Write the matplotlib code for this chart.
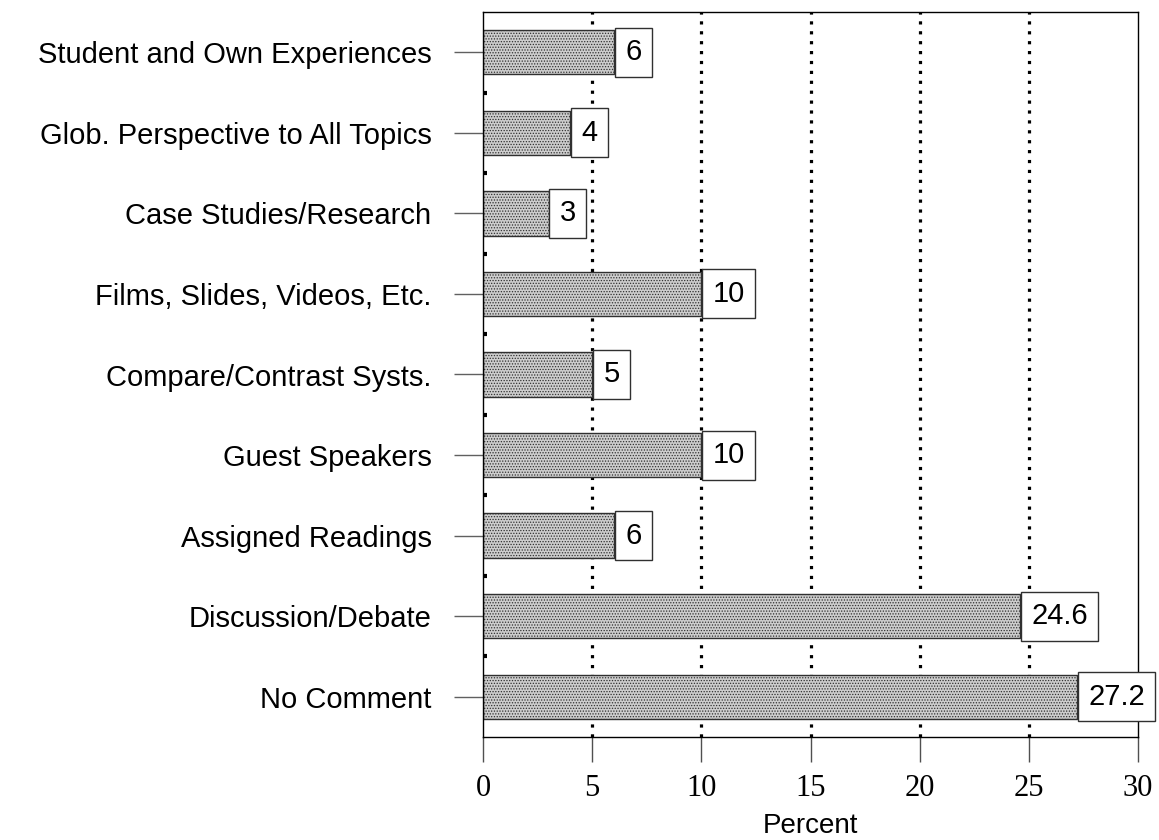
import matplotlib.pyplot as plt
import numpy as np

# categories listed top to bottom
categories = ['Student and Own Experiences', 'Glob. Perspective to All Topics',
              'Case Studies/Research', 'Films, Slides, Videos, Etc.',
              'Compare/Contrast Systs.', 'Guest Speakers', 'Assigned Readings',
              'Discussion/Debate', 'No Comment']
percent = [6, 4, 3, 10, 5, 10, 6, 24.6, 27.2]
value_labels = ['6', '4', '3', '10', '5', '10', '6', '24.6', '27.2']
x_ticks = [0, 5, 10, 15, 20, 25, 30]

plt.rcParams['hatch.color'] = '#7a7a7a'
plt.rcParams['hatch.linewidth'] = 0.6

fig = plt.figure(figsize=(11.59, 8.4), dpi=100)
ax = fig.add_axes([483 / 1159, 1 - 737 / 840, (1138 - 483) / 1159, (737 - 12) / 840])

y = np.arange(len(categories))[::-1]

# dotted gridlines behind bars
for xv in x_ticks[1:-1]:
    ax.axvline(xv, color='black', lw=2.3, linestyle=(0, (1, 2.1)), zorder=1)

ax.barh(y, percent, height=0.55, color='#cdcdcd', edgecolor='#303030',
        linewidth=1.0, hatch='......', zorder=2)

# value boxes start at bar end
fs = 21
pad = 0.36
for yi, v, lab in zip(y, percent, value_labels):
    ax.annotate(lab, (v, yi), xytext=(pad * fs + 0.5, 0), textcoords='offset points',
                ha='left', va='center', fontsize=fs, family='Liberation Sans',
                zorder=4, annotation_clip=False,
                bbox=dict(boxstyle='square,pad=%g' % pad, fc='white', ec='#303030', lw=1.0))

ax.set_xlim(0, 30)
ax.set_ylim(-0.5, len(categories) - 0.5)
ax.set_xticks(x_ticks)
ax.set_xticklabels([str(t) for t in x_ticks], family='Liberation Serif', fontsize=22)
ax.set_yticks(y)
ax.set_yticklabels(categories, family='Liberation Sans', fontsize=21)
ax.set_yticks(np.arange(len(categories) - 1) + 0.5, minor=True)

ax.tick_params(axis='x', direction='out', length=18, width=1, color='#505050', pad=9)
ax.tick_params(axis='y', which='major', direction='out', length=21, width=1,
               color='#606060', pad=16)
ax.tick_params(axis='y', which='minor', direction='in', length=3, width=3, color='black')

for s in ax.spines.values():
    s.set_linewidth(1.0)
    s.set_color('black')

ax.set_xlabel('Percent', family='Liberation Sans', fontsize=20, labelpad=7)

fig.savefig('out.png', dpi=100)
